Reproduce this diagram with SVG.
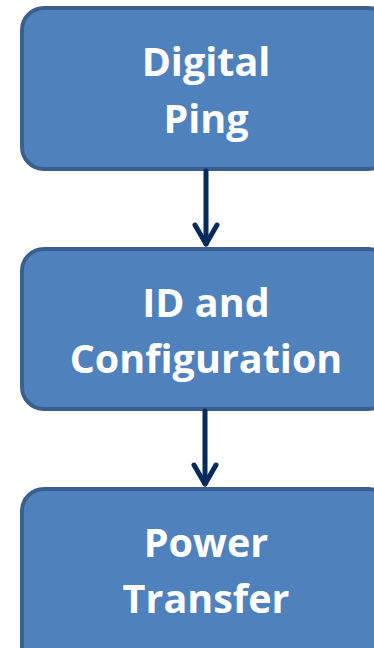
<svg xmlns="http://www.w3.org/2000/svg" width="374" height="648" viewBox="0 0 374 648">
<style>
.box{fill:#4f81bd;stroke:#3a5f8e;stroke-width:4}
.lbl{font-family:"Open Sans","Liberation Sans",sans-serif;font-weight:bold;font-size:39.5px;fill:#ffffff;text-anchor:middle}
.conn{fill:none;stroke:#052b5c;stroke-width:5;stroke-linecap:round;stroke-linejoin:round}
</style>
<rect x="0" y="0" width="374" height="648" fill="#ffffff"/>
<g id="node-digital-ping">
<rect class="box" x="22" y="8" width="368" height="161" rx="22"/>
<text class="lbl" x="206" y="76">Digital</text>
<text class="lbl" x="206" y="133">Ping</text>
</g>
<g id="node-id-config">
<rect class="box" x="22" y="249" width="368" height="160" rx="22"/>
<text class="lbl" x="206" y="317">ID and</text>
<text class="lbl" x="206" y="373">Configuration</text>
</g>
<g id="node-power-transfer">
<rect class="box" x="22" y="489" width="368" height="180" rx="22"/>
<text class="lbl" x="206" y="557">Power</text>
<text class="lbl" x="206" y="613">Transfer</text>
</g>
<g id="connectors">
<line class="conn" x1="206" y1="171" x2="206" y2="244"/>
<polyline class="conn" points="195,225 206,244 217,225"/>
<line class="conn" x1="205" y1="411" x2="205" y2="484"/>
<polyline class="conn" points="194,465 205,484 216,465"/>
</g>
</svg>
